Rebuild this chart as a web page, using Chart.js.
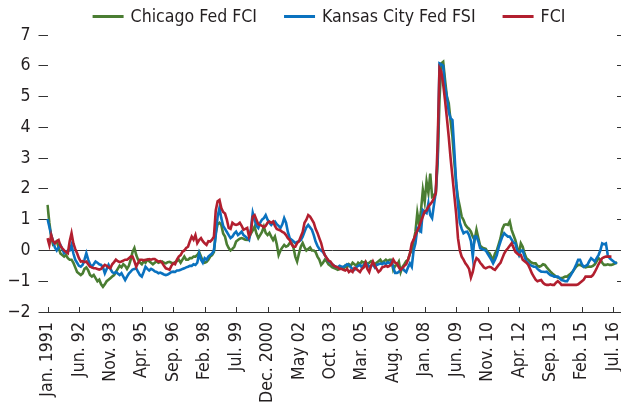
<!DOCTYPE html>
<html><head><meta charset="utf-8">
<script src="https://cdn.jsdelivr.net/npm/chart.js@4.4.1/dist/chart.umd.min.js"></script>
<style>html,body{margin:0;padding:0;background:#fff;overflow:hidden}</style>
</head><body>
<canvas id="c" width="621" height="406"></canvas>
<script>
const FONT = "'Liberation Sans Narrow','DejaVu Sans Condensed','Arial Narrow',sans-serif";
const FSIZE = 17.6;
const TEXT = '#231f20';

const seriesNames = ['Chicago Fed FCI', 'Kansas City Fed FSI', 'FCI'];
const seriesColors = ['#4a7d32', '#0a72bf', '#b21f2f'];

const tickLabels = ['Jan. 1991','Jun. 92','Nov. 93','Apr. 95','Sep. 96','Feb. 98','Jul. 99','Dec. 2000','May 02','Oct. 03','Mar. 05','Aug. 06','Jan. 08','Jun. 09','Nov. 10','Apr. 12','Sep. 13','Feb. 15','Jul. 16'];
const yTicks = [-2, -1, 0, 1, 2, 3, 4, 5, 6, 7];

// monthly, Jan 1991 .. Sep 2016
const chicagoFCI = [
 1.48, 0.9, 0.45, 0.2, 0.25, 0.3, 0.1, -0.1, -0.15, -0.2, -0.15, -0.25,
 -0.3, -0.3, -0.4, -0.55, -0.7, -0.75, -0.8, -0.75, -0.6, -0.55, -0.65, -0.8,
 -0.85, -0.8, -0.9, -1.0, -0.95, -1.1, -1.18, -1.1, -1.0, -0.95, -0.9, -0.85,
 -0.8, -0.7, -0.6, -0.5, -0.55, -0.45, -0.5, -0.6, -0.5, -0.3, -0.05, 0.08,
 -0.15, -0.3, -0.4, -0.45, -0.35, -0.4, -0.3, -0.35, -0.4, -0.45, -0.4, -0.35,
 -0.4, -0.38, -0.36, -0.4, -0.42, -0.38, -0.37, -0.4, -0.42, -0.38, -0.35, -0.3,
 -0.4, -0.3, -0.2, -0.3, -0.3, -0.25, -0.25, -0.2, -0.2, -0.15, -0.05, -0.2,
 -0.35, -0.4, -0.37, -0.3, -0.2, -0.15, -0.05, 0.57, 0.85, 0.9, 0.83, 0.55,
 0.45, 0.2, 0.08, 0.0, 0.05, 0.12, 0.29, 0.34, 0.38, 0.4, 0.38, 0.35,
 0.34, 0.4, 0.55, 0.65, 0.77, 0.55, 0.4, 0.5, 0.6, 0.77, 0.57, 0.5,
 0.57, 0.45, 0.34, 0.45, 0.2, -0.15, 0.0, 0.1, 0.18, 0.12, 0.15, 0.24,
 0.24, 0.1, -0.2, -0.36, -0.1, 0.12, 0.24, 0.1, 0.0, 0.05, 0.1, 0.0,
 0.0, -0.05, -0.2, -0.3, -0.47, -0.4, -0.3, -0.35, -0.45, -0.5, -0.55, -0.57,
 -0.6, -0.63, -0.6, -0.55, -0.6, -0.5, -0.55, -0.45, -0.5, -0.4, -0.45, -0.5,
 -0.4, -0.45, -0.36, -0.4, -0.36, -0.45, -0.4, -0.35, -0.4, -0.45, -0.4, -0.35,
 -0.3, -0.4, -0.35, -0.3, -0.35, -0.3, -0.3, -0.63, -0.5, -0.47, -0.36, -0.7,
 -0.53, -0.45, -0.35, -0.3, -0.1, 0.0, 0.3, 0.61, 1.22, 0.83, 1.3, 1.96,
 1.58, 2.24, 1.87, 2.5, 1.75, 1.8, 1.87, 2.84, 4.9, 6.08, 6.13, 5.54,
 5.0, 4.78, 4.2, 3.7, 2.9, 2.18, 1.7, 1.42, 1.1, 0.99, 0.83, 0.75,
 0.7, 0.61, 0.45, 0.34, 0.67, 0.4, 0.15, 0.1, 0.07, 0.05, -0.05, -0.09,
 -0.2, -0.3, -0.1, 0.0, 0.2, 0.4, 0.7, 0.83, 0.85, 0.83, 0.94, 0.67,
 0.5, 0.34, 0.1, -0.09, 0.23, 0.12, -0.1, -0.25, -0.3, -0.36, -0.4, -0.42,
 -0.42, -0.5, -0.53, -0.5, -0.45, -0.47, -0.55, -0.62, -0.69, -0.75, -0.8, -0.85,
 -0.88, -0.9, -0.9, -0.88, -0.85, -0.85, -0.8, -0.75, -0.69, -0.6, -0.52, -0.47,
 -0.47, -0.5, -0.53, -0.55, -0.53, -0.52, -0.53, -0.5, -0.45, -0.35, -0.25, -0.3,
 -0.4, -0.47, -0.47, -0.45, -0.47, -0.47, -0.45, -0.42, -0.38
];

const kansasCityFSI = [
 1.02, 0.77, 0.5, 0.3, 0.1, 0.0, 0.1, 0.18, 0.05, -0.09, -0.05, 0.0,
 0.0, 0.18, -0.1, -0.3, -0.4, -0.5, -0.53, -0.47, -0.3, -0.09, -0.3, -0.45,
 -0.53, -0.45, -0.36, -0.4, -0.45, -0.47, -0.55, -0.74, -0.6, -0.47, -0.6, -0.7,
 -0.74, -0.7, -0.75, -0.8, -0.74, -0.85, -0.96, -0.85, -0.75, -0.69, -0.62, -0.6,
 -0.58, -0.7, -0.8, -0.85, -0.7, -0.53, -0.6, -0.65, -0.6, -0.63, -0.68, -0.7,
 -0.74, -0.72, -0.75, -0.78, -0.8, -0.78, -0.75, -0.7, -0.69, -0.7, -0.65, -0.65,
 -0.63, -0.6, -0.58, -0.55, -0.53, -0.5, -0.5, -0.45, -0.47, -0.4, -0.1, -0.3,
 -0.4, -0.25, -0.3, -0.2, -0.15, -0.1, 0.0, 0.5, 1.1, 1.38, 1.05, 0.8,
 0.7, 0.6, 0.5, 0.4, 0.45, 0.55, 0.61, 0.5, 0.55, 0.61, 0.5, 0.45,
 0.4, 0.34, 0.7, 1.22, 1.0, 0.8, 0.73, 0.9, 1.0, 1.05, 1.15, 1.0,
 0.9, 0.83, 0.9, 0.94, 0.85, 0.8, 0.73, 0.85, 1.05, 0.9, 0.6, 0.4,
 0.35, 0.3, 0.24, 0.28, 0.3, 0.34, 0.45, 0.61, 0.75, 0.83, 0.75, 0.67,
 0.5, 0.29, 0.15, 0.05, 0.0, -0.05, -0.15, -0.25, -0.35, -0.4, -0.45, -0.5,
 -0.53, -0.55, -0.5, -0.53, -0.53, -0.5, -0.45, -0.47, -0.55, -0.6, -0.63, -0.55,
 -0.5, -0.47, -0.55, -0.47, -0.5, -0.45, -0.53, -0.5, -0.45, -0.55, -0.47, -0.45,
 -0.42, -0.45, -0.4, -0.45, -0.38, -0.42, -0.36, -0.55, -0.73, -0.73, -0.7, -0.62,
 -0.58, -0.65, -0.7, -0.55, -0.42, -0.53, 0.0, 0.23, 0.72, 0.65, 0.61, 1.31,
 1.25, 1.21, 1.53, 1.15, 1.05, 1.48, 1.9, 3.0, 6.08, 6.05, 6.0, 5.32,
 4.99, 4.5, 4.3, 4.24, 3.26, 2.2, 1.5, 0.9, 0.7, 0.56, 0.6, 0.61,
 0.5, 0.3, -0.2, 0.45, 0.45, 0.3, 0.07, 0.05, 0.02, 0.0, -0.1, -0.2,
 -0.3, -0.42, -0.3, -0.15, 0.1, 0.29, 0.45, 0.56, 0.5, 0.45, 0.45, 0.35,
 0.25, 0.23, 0.0, -0.15, 0.0, 0.0, -0.2, -0.36, -0.4, -0.47, -0.5, -0.53,
 -0.53, -0.6, -0.65, -0.69, -0.69, -0.7, -0.69, -0.75, -0.8, -0.82, -0.85, -0.85,
 -0.85, -0.9, -0.96, -0.98, -1.0, -1.0, -0.9, -0.8, -0.7, -0.58, -0.45, -0.3,
 -0.3, -0.45, -0.53, -0.5, -0.47, -0.35, -0.25, -0.3, -0.36, -0.25, -0.15, 0.0,
 0.23, 0.2, 0.23, -0.15, -0.25, -0.3, -0.35, -0.4, -0.42
];

const fci = [
 0.4, 0.18, 0.5, 0.3, 0.23, 0.3, 0.34, 0.15, 0.07, 0.0, -0.05, -0.09,
 0.3, 0.56, 0.23, 0.05, -0.09, -0.25, -0.36, -0.35, -0.38, -0.36, -0.45, -0.53,
 -0.55, -0.58, -0.58, -0.6, -0.62, -0.6, -0.53, -0.47, -0.5, -0.55, -0.58, -0.45,
 -0.38, -0.3, -0.35, -0.38, -0.36, -0.33, -0.3, -0.3, -0.25, -0.2, -0.2, -0.35,
 -0.53, -0.4, -0.3, -0.3, -0.32, -0.3, -0.3, -0.28, -0.3, -0.28, -0.28, -0.32,
 -0.36, -0.35, -0.4, -0.5, -0.58, -0.6, -0.63, -0.5, -0.42, -0.45, -0.3, -0.2,
 -0.15, -0.04, 0.0, 0.08, 0.12, 0.3, 0.45, 0.35, 0.5, 0.24, 0.34, 0.4,
 0.3, 0.23, 0.18, 0.3, 0.29, 0.35, 0.45, 1.3, 1.6, 1.64, 1.38, 1.25,
 1.2, 1.0, 0.73, 0.7, 0.9, 0.85, 0.83, 0.85, 0.9, 0.8, 0.67, 0.7,
 0.73, 0.45, 0.6, 1.1, 1.15, 1.0, 0.85, 0.83, 0.8, 0.75, 0.8, 0.9,
 0.94, 0.9, 0.94, 0.8, 0.7, 0.67, 0.65, 0.6, 0.57, 0.5, 0.4, 0.34,
 0.2, 0.12, 0.12, 0.24, 0.3, 0.45, 0.6, 0.9, 1.0, 1.15, 1.1, 1.0,
 0.9, 0.7, 0.57, 0.4, 0.24, 0.0, -0.15, -0.25, -0.33, -0.36, -0.45, -0.5,
 -0.53, -0.55, -0.6, -0.6, -0.63, -0.65, -0.6, -0.7, -0.65, -0.7, -0.57, -0.6,
 -0.65, -0.7, -0.6, -0.55, -0.4, -0.6, -0.7, -0.5, -0.36, -0.5, -0.6, -0.7,
 -0.65, -0.55, -0.53, -0.5, -0.53, -0.5, -0.45, -0.3, -0.4, -0.42, -0.55, -0.63,
 -0.57, -0.5, -0.45, -0.3, -0.1, 0.23, 0.35, 0.5, 0.65, 0.77, 0.95, 1.1,
 1.26, 1.3, 1.42, 1.5, 1.58, 1.7, 1.86, 3.5, 5.92, 5.8, 5.4, 4.88,
 4.3, 3.69, 3.0, 2.4, 1.8, 1.2, 0.4, 0.0, -0.2, -0.3, -0.42, -0.5,
 -0.6, -0.88, -0.7, -0.4, -0.25, -0.3, -0.4, -0.47, -0.55, -0.58, -0.55, -0.53,
 -0.55, -0.6, -0.63, -0.55, -0.47, -0.4, -0.25, -0.1, 0.0, 0.07, 0.15, 0.23,
 0.1, -0.04, -0.1, -0.15, -0.15, -0.3, -0.35, -0.4, -0.47, -0.6, -0.75, -0.85,
 -0.95, -1.0, -0.98, -0.96, -1.05, -1.1, -1.12, -1.12, -1.1, -1.12, -1.12, -1.05,
 -1.0, -1.05, -1.12, -1.12, -1.12, -1.12, -1.12, -1.12, -1.12, -1.12, -1.12, -1.1,
 -1.05, -1.0, -0.95, -0.85, -0.85, -0.85, -0.85, -0.8, -0.7, -0.58, -0.45, -0.35,
 -0.25, -0.22, -0.2, -0.2, -0.2, -0.2, null, null, null
];

const monthNames = ['Jan','Feb','Mar','Apr','May','Jun','Jul','Aug','Sep','Oct','Nov','Dec'];
const categories = chicagoFCI.map((_, i) => monthNames[i % 12] + ' ' + (1991 + Math.floor(i / 12)));
const TICK_STEP = 17;

const axisDecor = {
  id: 'axisDecor',
  afterDraw(chart) {
    const ctx = chart.ctx, xs = chart.scales.x, ca = chart.chartArea;
    ctx.save();
    ctx.strokeStyle = '#333';
    ctx.lineWidth = 1;
    ctx.beginPath();
    for (let i = 0; i < xs.ticks.length; i++) {
      const x = Math.round(xs.getPixelForTick(i)) + 0.5;
      ctx.moveTo(x, ca.bottom);
      ctx.lineTo(x, ca.bottom - 5);
    }
    ctx.stroke();
    // legend
    ctx.font = FSIZE + 'px ' + FONT;
    ctx.textBaseline = 'middle';
    ctx.fillStyle = TEXT;
    const lineW = 31, gapText = 7, gapItem = 27;
    const widths = seriesNames.map(n => ctx.measureText(n).width);
    const total = widths.reduce((a, b) => a + b, 0) + seriesNames.length * (lineW + gapText) + (seriesNames.length - 1) * gapItem;
    let x = 329 - total / 2;
    const y = 16;
    seriesNames.forEach((n, i) => {
      ctx.strokeStyle = seriesColors[i];
      ctx.lineWidth = 3;
      ctx.beginPath();
      ctx.moveTo(x, y + 0.5); ctx.lineTo(x + lineW, y + 0.5);
      ctx.stroke();
      x += lineW + gapText;
      ctx.fillText(n, x, y + 1);
      x += widths[i] + gapItem;
    });
    ctx.restore();
  }
};

const mk = (label, data, color, order) => ({
  label, data, borderColor: color, backgroundColor: color,
  borderWidth: 2.6, pointRadius: 0, tension: 0, order, spanGaps: false
});

new Chart(document.getElementById('c'), {
  type: 'line',
  data: {
    labels: categories,
    datasets: [
      mk(seriesNames[0], chicagoFCI, seriesColors[0], 3),
      mk(seriesNames[1], kansasCityFSI, seriesColors[1], 2),
      mk(seriesNames[2], fci, seriesColors[2], 1)
    ]
  },
  options: {
    responsive: false,
    animation: false,
    devicePixelRatio: 1,
    layout: { padding: { top: 35, left: 0, right: 0, bottom: 0 } },
    plugins: { legend: { display: false }, tooltip: { enabled: false } },
    scales: {
      x: {
        type: 'category',
        offset: false,
        grid: { display: false, drawTicks: false },
        border: { display: true, color: '#333', width: 1 },
        afterBuildTicks: s => { s.ticks = s.ticks.filter(t => t.value % TICK_STEP === 0); },
        afterFit: s => { s.height = 94; s.paddingLeft = 0; s.paddingRight = 0; },
        ticks: {
          autoSkip: false, maxRotation: 90, minRotation: 90, padding: 10,
          color: TEXT, font: { family: FONT, size: FSIZE },
          callback: v => tickLabels[v / TICK_STEP]
        }
      },
      y: {
        position: 'left',
        min: yTicks[0], max: yTicks[yTicks.length - 1],
        afterBuildTicks: s => { s.ticks = yTicks.map(v => ({ value: v })); },
        afterFit: s => { s.width = 47.5; },
        border: { display: false },
        grid: {
          drawOnChartArea: true, drawTicks: true, tickLength: 9,
          tickColor: '#333', lineWidth: 1,
          color: c => (c.tick && c.tick.value === 0) ? '#333' : 'rgba(0,0,0,0)'
        },
        ticks: {
          padding: 8, color: TEXT, font: { family: FONT, size: FSIZE },
          callback: v => v < 0 ? '\u2212' + Math.abs(v) : String(v)
        }
      },
      y2: {
        position: 'right',
        min: yTicks[0], max: yTicks[yTicks.length - 1],
        afterBuildTicks: s => { s.ticks = yTicks.map(v => ({ value: v })); },
        border: { display: false },
        grid: { drawOnChartArea: false, drawTicks: true, tickLength: 4, tickColor: '#333' },
        ticks: { display: false }
      }
    }
  },
  plugins: [axisDecor]
});
</script>
</body></html>
